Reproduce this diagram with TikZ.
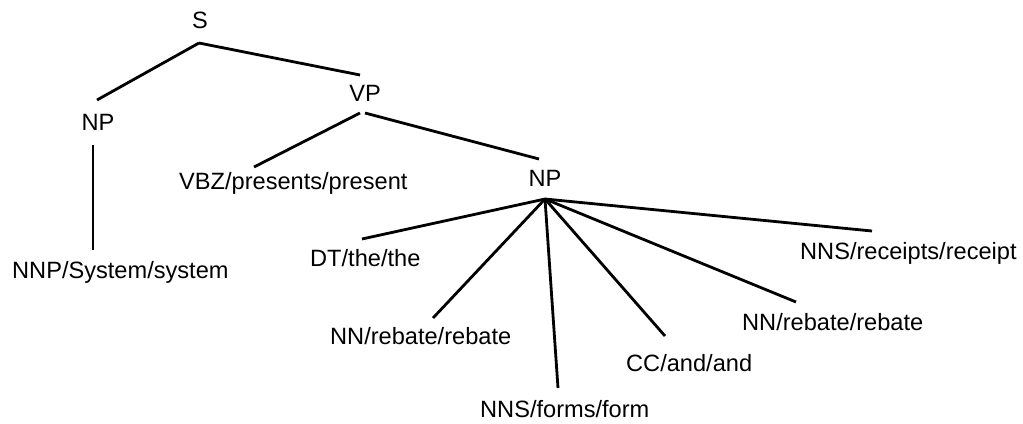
\documentclass[tikz,border=0pt]{standalone}
\usepackage{fontspec}
\setmainfont{Liberation Sans}
\begin{document}
\begin{tikzpicture}[x=1bp,y=-1bp,
  lbl/.style={inner sep=0pt,font=\fontsize{23.6bp}{28bp}\selectfont},
  lblc/.style={lbl,anchor=base},
  lblw/.style={lbl,anchor=base west},
  edge/.style={line width=2.8bp,line cap=butt}]
\useasboundingbox (0,0) rectangle (1023,423);
% labels
\node[lblc] (s)   at (200,28)  {S};
\node[lblc] (np1) at (98,130)  {NP};
\node[lblc] (vp)  at (365,101) {VP};
\node[lblw] (vbz) at (179,189) {VBZ/presents/present};
\node[lblc] (np2) at (545,186) {NP};
\node[lblw] (nnp) at (12,278)  {NNP/System/system};
\node[lblw] (dt)  at (310,266) {DT/the/the};
\node[lblw] (nn1) at (330,344) {NN/rebate/rebate};
\node[lblw] (nns1) at (480,417) {NNS/forms/form};
\node[lblw] (cc)  at (626,371) {CC/and/and};
\node[lblw] (nn2) at (742,330) {NN/rebate/rebate};
\node[lblw] (nns2) at (800,259) {NNS/receipts/receipt};
% attachment points of the branches
\coordinate (s-b)    at (199,43);
\coordinate (np1-t)  at (97,100);
\coordinate (np1-b)  at (93,145);
\coordinate (vp-t)   at (360,75);
\coordinate (vp-bl)  at (360,113);
\coordinate (vp-br)  at (365,113);
\coordinate (vbz-t)  at (254,167);
\coordinate (np2-t)  at (539,159);
\coordinate (np2-b)  at (545,199);
\coordinate (nnp-t)  at (93,250);
\coordinate (dt-t)   at (362,239);
\coordinate (nn1-t)  at (433,318);
\coordinate (nns1-t) at (558,388);
\coordinate (cc-t)   at (665,336);
\coordinate (nn2-t)  at (796,302);
\coordinate (nns2-t) at (872,231);
% branches
\draw[edge] (s-b) -- (np1-t);
\draw[edge] (s-b) -- (vp-t);
\draw[edge] (np1-b) -- (nnp-t);
\draw[edge] (vp-bl) -- (vbz-t);
\draw[edge] (vp-br) -- (np2-t);
\foreach \c in {dt-t,nn1-t,nns1-t,cc-t,nn2-t,nns2-t}
  \draw[edge] (np2-b) -- (\c);
\end{tikzpicture}
\end{document}
